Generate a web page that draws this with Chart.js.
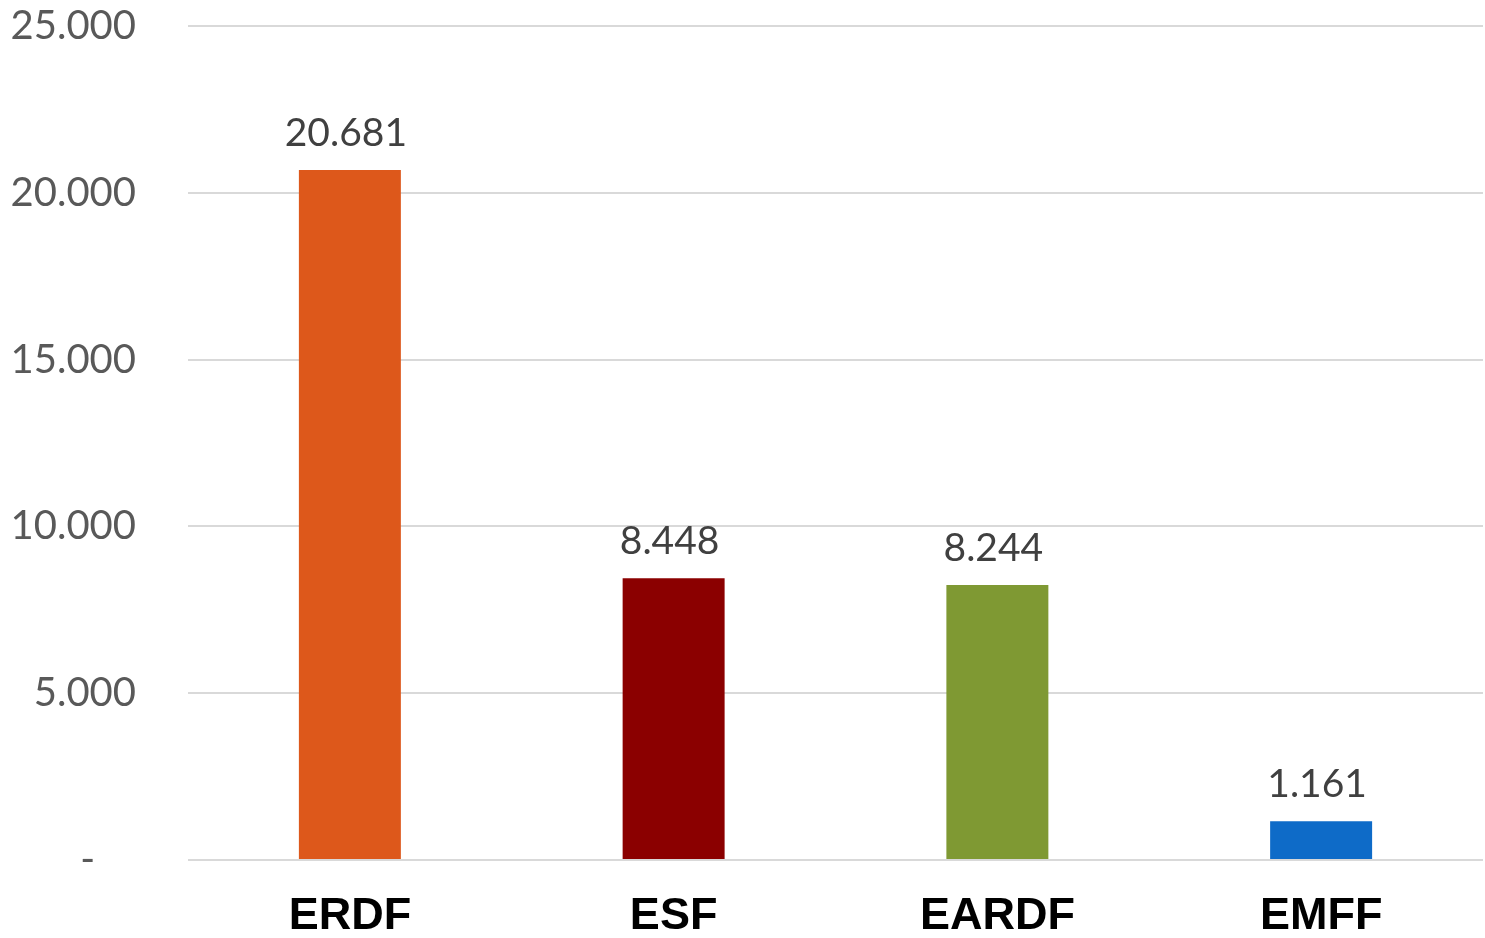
<!DOCTYPE html>
<html>
<head>
<meta charset="utf-8">
<script src="https://cdn.jsdelivr.net/npm/chart.js@4"></script>
<style>
  body { margin: 0; background: #fff; }
  #wrap { width: 1485px; height: 938px; }
</style>
</head>
<body>
<div id="wrap"><canvas id="funds-chart"></canvas></div>
<script>
// chart data
const funds = ['ERDF', 'ESF', 'EARDF', 'EMFF'];
const amounts = [20681, 8448, 8244, 1161];
const barColors = ['#DD581B', '#8B0000', '#7F9933', '#0E6BC8'];
const yTicks = [0, 5000, 10000, 15000, 20000, 25000];

// thousands with a dot, zero as a dash (accounting style)
function fmt(v) {
    if (v === 0) return '-    ';
    return String(v).replace(/\B(?=(\d{3})+(?!\d))/g, '.');
}

// labels above the bars
const valueLabels = {
    id: 'valueLabels',
    afterDatasetsDraw(chart) {
        const ctx = chart.ctx;
        const meta = chart.getDatasetMeta(0);
        ctx.save();
        ctx.font = '39px Lato';
        ctx.fillStyle = '#404040';
        ctx.textAlign = 'center';
        ctx.textBaseline = 'alphabetic';
        meta.data.forEach(function (bar, i) {
            ctx.fillText(fmt(amounts[i]), bar.x - 4, bar.y - 24);
        });
        ctx.restore();
    }
};

var ctx = document.getElementById('funds-chart').getContext('2d');
var fundsChart = new Chart(ctx, {
    type: 'bar',
    data: {
        labels: funds,
        datasets: [{
            data: amounts,
            backgroundColor: barColors,
            borderWidth: 0,
            categoryPercentage: 1,
            barPercentage: 0.315
        }]
    },
    options: {
        responsive: true,
        maintainAspectRatio: false,
        animation: false,
        layout: { padding: { top: 26, right: 2, left: 0, bottom: 0 } },
        plugins: {
            legend: { display: false },
            tooltip: { enabled: false }
        },
        scales: {
            x: {
                grid: { display: false },
                border: { display: false },
                ticks: {
                    color: '#000',
                    padding: 22,
                    font: { family: 'Liberation Sans', size: 45, weight: 'bold' }
                },
                afterFit: function (scale) { scale.height = 78; }
            },
            y: {
                min: 0,
                max: 25000,
                afterBuildTicks: function (scale) {
                    scale.ticks = yTicks.map(function (v) { return { value: v }; });
                },
                grid: { color: '#D9D9D9', lineWidth: 2, drawTicks: false },
                border: { display: false },
                ticks: {
                    color: '#595959',
                    padding: 52,
                    font: { family: 'Lato', size: 40 },
                    callback: function (v) { return fmt(v); }
                },
                afterFit: function (scale) {
                    scale.width = 188;
                    scale.paddingTop = 0;
                    scale.paddingBottom = 0;
                }
            }
        }
    },
    plugins: [valueLabels]
});
</script>
</body>
</html>
